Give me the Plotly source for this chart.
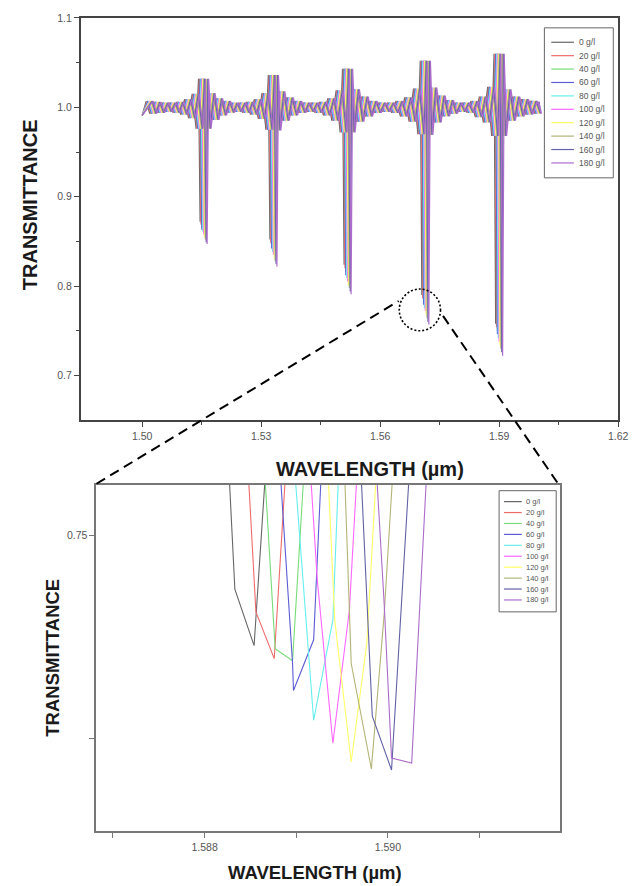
import plotly.graph_objects as go

W, H = 642, 886

# ---------------- data ----------------
SERIES = ["0 g/l", "20 g/l", "40 g/l", "60 g/l", "80 g/l",
          "100 g/l", "120 g/l", "140 g/l", "160 g/l", "180 g/l"]
COLORS = ["#666666", "#f06a6a", "#78dc78", "#5c5cd6", "#66eeee",
          "#ff66ff", "#ffff66", "#b4b478", "#6262a6", "#ac6ccc"]

# spectral shift of each concentration relative to 0 g/l (um)
SHIFT = [0.0, 0.00022, 0.00043, 0.00044, 0.00066, 0.00088, 0.00109, 0.00131, 0.00154, 0.00176]

# 0 g/l full-range transmission profile (um, transmittance)
BASE_WL = [
    1.5000, 1.5010, 1.5019, 1.5029, 1.5039, 1.5049, 1.5058, 1.5068, 1.5078, 1.5087,
    1.5097, 1.5107, 1.5117, 1.5126, 1.5136,
    1.5142, 1.5146, 1.5150,
    1.5156, 1.5166, 1.5176, 1.5185, 1.5195, 1.5205, 1.5215, 1.5224, 1.5234, 1.5244,
    1.5254, 1.5263, 1.5273, 1.5283, 1.5293, 1.5302, 1.5312,
    1.5318, 1.5322, 1.5326,
    1.5332, 1.5342, 1.5353, 1.5363, 1.5374, 1.5384, 1.5395, 1.5405, 1.5416, 1.5426,
    1.5436, 1.5447, 1.5457, 1.5468, 1.5478, 1.5489, 1.5499,
    1.5505, 1.5509, 1.5513,
    1.5519, 1.5530, 1.5541, 1.5552, 1.5563, 1.5574, 1.5585, 1.5596, 1.5607, 1.5618,
    1.5629, 1.5640, 1.5651, 1.5662, 1.5673, 1.5684, 1.5695,
    1.5701, 1.5705, 1.5709,
    1.5715, 1.5725, 1.5736, 1.5746, 1.5757, 1.5767, 1.5777, 1.5788, 1.5798, 1.5808,
    1.5819, 1.5829, 1.5840, 1.5850, 1.5860, 1.5871, 1.5881,
    1.5887, 1.5891, 1.5895,
    1.5901, 1.5912, 1.5923, 1.5934, 1.5945, 1.5956, 1.5967, 1.5978, 1.5989, 1.6000,
]
BASE_T = [
    0.991, 1.007, 0.993, 1.006, 0.994, 1.005, 0.995, 1.005, 0.994, 1.006,
    0.992, 1.009, 0.988, 1.015, 0.976,
    1.032, 0.847, 1.032,
    0.976, 1.016, 0.986, 1.010, 0.991, 1.007, 0.994, 1.005, 0.995, 1.005,
    0.994, 1.006, 0.992, 1.009, 0.987, 1.016, 0.975,
    1.036, 0.822, 1.036,
    0.974, 1.018, 0.985, 1.011, 0.991, 1.007, 0.994, 1.005, 0.995, 1.005,
    0.994, 1.006, 0.991, 1.010, 0.985, 1.019, 0.972,
    1.043, 0.791, 1.043,
    0.972, 1.020, 0.984, 1.012, 0.990, 1.007, 0.994, 1.005, 0.995, 1.005,
    0.994, 1.007, 0.990, 1.011, 0.984, 1.021, 0.970,
    1.052, 0.757, 1.052,
    0.969, 1.022, 0.983, 1.013, 0.990, 1.008, 0.993, 1.005, 0.995, 1.005,
    0.994, 1.007, 0.989, 1.012, 0.983, 1.023, 0.968,
    1.060, 0.722, 1.060,
    0.968, 1.020, 0.985, 1.012, 0.990, 1.009, 0.992, 1.007, 0.993, 1.006,
]

# wavelength of the five resonance dips of 0 g/l and the minimum reached by each series there
DIP_WL = [1.5146, 1.5322, 1.5509, 1.5705, 1.5891]
DIP_MIN = [
    [0.872, 0.852, 0.824, 0.790, 0.758],   # 0 g/l
    [0.869, 0.848, 0.820, 0.786, 0.754],   # 20 g/l
    [0.866, 0.845, 0.816, 0.783, 0.750],   # 40 g/l
    [0.863, 0.842, 0.812, 0.779, 0.746],   # 60 g/l
    [0.861, 0.838, 0.809, 0.775, 0.742],   # 80 g/l
    [0.858, 0.835, 0.805, 0.772, 0.738],   # 100 g/l
    [0.855, 0.832, 0.801, 0.768, 0.734],   # 120 g/l
    [0.852, 0.828, 0.798, 0.764, 0.730],   # 140 g/l
    [0.849, 0.825, 0.794, 0.760, 0.726],   # 160 g/l
    [0.847, 0.822, 0.791, 0.757, 0.722],   # 180 g/l
]

# zoomed view around the 1.589 um dip (um, transmittance), one list per series
ZOOM_WL = [
    [1.58827, 1.58833, 1.58854, 1.58866],
    [1.58848, 1.58856, 1.58876, 1.58888],
    [1.58866, 1.58877, 1.58896, 1.58908],
    [1.58883, 1.58896, 1.58897, 1.58919, 1.58927],
    [1.58899, 1.58919, 1.58940, 1.58946],
    [1.58916, 1.58923, 1.58940, 1.58958, 1.58966],
    [1.58935, 1.58942, 1.58960, 1.58977, 1.58987],
    [1.58953, 1.58960, 1.58982, 1.58996, 1.59005],
    [1.58971, 1.58983, 1.59004, 1.59023],
    [1.58988, 1.58996, 1.59004, 1.59026, 1.59042],
]
ZOOM_T = [
    [0.7528, 0.74735, 0.74456, 0.7528],
    [0.7528, 0.74623, 0.74392, 0.7528],
    [0.7528, 0.74441, 0.74382, 0.7528],
    [0.7528, 0.74368, 0.74235, 0.74485, 0.7528],
    [0.7528, 0.74088, 0.74583, 0.7528],
    [0.7528, 0.74779, 0.73975, 0.74632, 0.7528],
    [0.7528, 0.74583, 0.73882, 0.74466, 0.7528],
    [0.7528, 0.74368, 0.73848, 0.74613, 0.7528],
    [0.7528, 0.74108, 0.73843, 0.7528],
    [0.7528, 0.74662, 0.73902, 0.73877, 0.7528],
]

TOP_XTICKS = [1.50, 1.53, 1.56, 1.59, 1.62]
TOP_YTICKS = [0.7, 0.8, 0.9, 1.0, 1.1]
ZOOM_XTICKS = [1.587, 1.588, 1.589, 1.590, 1.591]
ZOOM_XTEXT = ["", "1.588", "", "1.590", ""]
ZOOM_YTICKS = [0.74, 0.75]
ZOOM_YTEXT = ["", "0.75"]

# ---------------- helpers ----------------
def fx(px):
    return px / W

def fy(py):
    return 1 - py / H

FONT = "Arial, Liberation Sans, sans-serif"

fig = go.Figure()

for k, name in enumerate(SERIES):
    xs = [w + SHIFT[k] for w in BASE_WL]
    xs[0] = BASE_WL[0]
    xs[-1] = BASE_WL[-1]
    ys = list(BASE_T)
    for j, d in enumerate(DIP_WL):
        ys[BASE_WL.index(d)] = DIP_MIN[k][j]
    fig.add_trace(go.Scatter(x=xs, y=ys, mode="lines", name=name,
                             line=dict(color=COLORS[k], width=1.2),
                             xaxis="x", yaxis="y", showlegend=False))

for k, name in enumerate(SERIES):
    fig.add_trace(go.Scatter(x=ZOOM_WL[k], y=ZOOM_T[k], mode="lines", name=name,
                             line=dict(color=COLORS[k], width=1.1),
                             xaxis="x2", yaxis="y2", showlegend=False))

tickfont = dict(family=FONT, size=10.5, color="#555")
axcommon = dict(showgrid=False, zeroline=False, showline=True, mirror=True,
                ticks="outside", ticklen=5, tickwidth=1.2, tickfont=tickfont)

fig.update_layout(
    width=W, height=H,
    margin=dict(l=0, r=0, t=0, b=0),
    paper_bgcolor="white", plot_bgcolor="white",
    showlegend=False,
    xaxis=dict(domain=[fx(82), fx(628)], range=[1.4845, 1.62],
               tickvals=TOP_XTICKS, ticktext=["%.2f" % v for v in TOP_XTICKS],
               linecolor="#444", linewidth=1.5, tickcolor="#444",
               minor=dict(ticks="outside", ticklen=3, tickcolor="#444",
                          tickvals=[1.515, 1.545, 1.575, 1.605]),
               anchor="y", **axcommon),
    yaxis=dict(domain=[fy(417), fy(12)], range=[0.65, 1.1],
               tickvals=TOP_YTICKS, ticktext=["%.1f" % v for v in TOP_YTICKS],
               linecolor="#444", linewidth=1.5, tickcolor="#444",
               minor=dict(ticks="outside", ticklen=3, tickcolor="#444",
                          tickvals=[0.75, 0.85, 0.95, 1.05]),
               anchor="x", **axcommon),
    xaxis2=dict(domain=[fx(98), fx(569)], range=[1.58682, 1.59188],
                tickvals=ZOOM_XTICKS, ticktext=ZOOM_XTEXT,
                linecolor="#777", linewidth=2, tickcolor="#777",
                anchor="y2", **axcommon),
    yaxis2=dict(domain=[fy(831), fy(482)], range=[0.7354, 0.7525],
                tickvals=ZOOM_YTICKS, ticktext=ZOOM_YTEXT,
                linecolor="#777", linewidth=2, tickcolor="#777",
                anchor="x2", **axcommon),
)

ann = []
shapes = []
titlefont_big = dict(family=FONT, size=20, color="#1a1a1a")
titlefont_small = dict(family=FONT, size=18.5, color="#1a1a1a")
ann.append(dict(text="<b>TRANSMITTANCE</b>", x=fx(30), y=fy(200), xref="paper", yref="paper",
                textangle=-90, showarrow=False, font=titlefont_big, xanchor="center", yanchor="middle"))
ann.append(dict(text="<b>WAVELENGTH (µm)</b>", x=fx(376), y=fy(466), xref="paper", yref="paper",
                showarrow=False, font=titlefont_big, xanchor="center", yanchor="middle"))
ann.append(dict(text="<b>TRANSMITTANCE</b>", x=fx(53), y=fy(656), xref="paper", yref="paper",
                textangle=-90, showarrow=False, font=titlefont_small, xanchor="center", yanchor="middle"))
ann.append(dict(text="<b>WAVELENGTH (µm)</b>", x=fx(320), y=fy(872), xref="paper", yref="paper",
                showarrow=False, font=titlefont_small, xanchor="center", yanchor="middle"))

# legends (drawn manually to keep the compact row spacing)
def add_legend(x0, y0, x1, y1, first_row, step, line_x0, line_x1, text_x, size):
    shapes.append(dict(type="rect", xref="paper", yref="paper",
                       x0=fx(x0), x1=fx(x1), y0=fy(y1), y1=fy(y0),
                       line=dict(color="#666", width=1), fillcolor="white", layer="above"))
    for i, name in enumerate(SERIES):
        yy = first_row + i * step
        shapes.append(dict(type="line", xref="paper", yref="paper",
                           x0=fx(line_x0), x1=fx(line_x1), y0=fy(yy), y1=fy(yy),
                           line=dict(color=COLORS[i], width=1.2), layer="above"))
        ann.append(dict(text=name, x=fx(text_x), y=fy(yy), xref="paper", yref="paper",
                        showarrow=False, xanchor="left", yanchor="middle",
                        font=dict(family=FONT, size=size, color="#555")))

add_legend(553, 22, 623, 173, 36.5, 13.5, 560, 583, 586, 8.5)
add_legend(507, 488, 565, 610, 499, 11.0, 512, 530, 532, 7.5)

# dotted circle on the upper panel and dashed connectors to the zoom panel
shapes.append(dict(type="circle", xref="x", yref="y", x0=1.5648, x1=1.5752, y0=0.750, y1=0.7967,
                   line=dict(color="black", width=1.6, dash="2px,2px")))
shapes.append(dict(type="line", xref="paper", yref="paper", x0=fx(98), y0=fy(481),
                   x1=fx(405), y1=fy(297), line=dict(color="black", width=2, dash="10px,6px")))
shapes.append(dict(type="line", xref="paper", yref="paper", x0=fx(450), y0=fy(312),
                   x1=fx(567), y1=fy(481), line=dict(color="black", width=2, dash="10px,6px")))

fig.update_layout(annotations=ann, shapes=shapes)
fig.write_html(
    "out.html", config={"displayModeBar": False},
    post_script=("document.body.style.margin='0px';"
                 "document.body.style.overflow='hidden';"
                 "document.documentElement.style.overflow='hidden';"))
